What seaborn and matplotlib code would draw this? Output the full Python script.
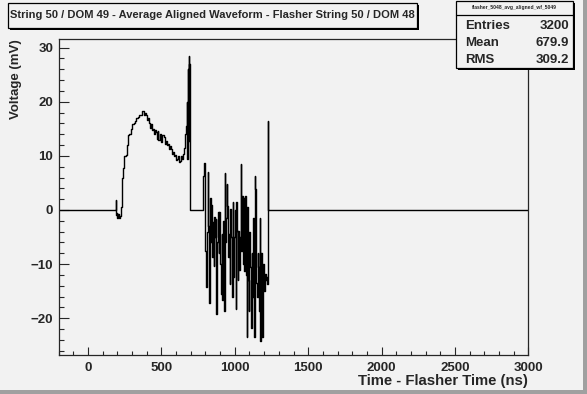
import numpy as np
import pandas as pd
import seaborn as sns
import matplotlib.pyplot as plt
from matplotlib.patches import Rectangle
from matplotlib.ticker import MultipleLocator

# waveform (time in ns, voltage in mV), drawn as histogram steps
rise_t = [-200, 188, 192, 196, 200, 205, 210, 215, 222, 228, 234, 240, 248, 256, 264, 272,
          280, 290, 300, 310, 320, 330, 340, 350, 360, 370, 378, 385, 392, 400, 408, 413,
          420, 426, 433, 440, 446, 453, 460, 467, 474, 480, 487, 494, 500, 507, 515, 522,
          528, 535, 542, 549, 556, 562, 569, 576, 583, 590, 596, 603, 610, 617, 624, 630,
          637, 644, 651, 658, 664, 668, 671, 674, 676, 678, 680, 682, 684, 685, 687, 689,
          691, 693, 698]
rise_mv = [0.0, 1.9, -1.0, -0.5, -1.5, -0.8, -1.4, -1.2, 0.5, 3.2, 6.0, 7.8, 10.0, 10.2, 12.0, 13.8,
           14.0, 15.0, 15.8, 16.0, 16.5, 17.0, 17.2, 17.6, 17.5, 18.2, 17.6, 18.0, 17.5, 16.6, 17.0, 16.1,
           15.2, 15.9, 14.8, 15.0, 14.1, 14.8, 14.4, 13.2, 14.5, 13.0, 14.0, 13.6, 12.5, 13.8, 13.4, 12.2,
           12.8, 12.0, 12.1, 11.3, 11.8, 11.2, 10.4, 10.8, 9.9, 10.2, 9.3, 9.4, 9.9, 8.8, 9.0, 10.0,
           9.5, 10.3, 11.5, 12.7, 14.0, 15.5, 17.0, 20.0, 9.5, 24.2, 18.0, 26.0, 16.0, 28.5, 20.0, 12.7,
           27.0, 11.0, 0.0]

noise_t = [783, 785, 790, 795, 800, 805, 810, 815, 820, 825, 830, 835, 840, 845, 850, 855,
           860, 865, 870, 875, 880, 885, 890, 895, 900, 905, 910, 915, 920, 925, 930, 935,
           940, 945, 950, 955, 960, 965, 970, 975, 980, 985, 990, 995, 1000, 1005, 1010, 1015,
           1020, 1025, 1030, 1035, 1040, 1045, 1050, 1055, 1060, 1065, 1070, 1075, 1080, 1085,
           1090, 1095, 1100, 1105, 1110, 1115, 1120, 1125, 1130, 1135, 1140, 1145, 1150, 1155,
           1160, 1165, 1170, 1175, 1180, 1185, 1190, 1195, 1200, 1205, 1210, 1215, 1220]
noise_mv = [0.0, 6.3, 8.7, 3.0, -7.5, -14.3, -4.0, 7.1, -3.0, -17.1, 2.3, -6.0, 1.0, -8.7, -2.3, -10.3,
            -1.3, -5.0, -1.6, -19.2, -5.9, -0.4, -8.0, -0.4, -9.9, -15.5, -4.4, -16.7, -2.0, -18.6, 6.9, -6.0,
            -1.4, 4.8, 0.8, -8.7, -4.5, -13.6, 0.2, -5.0, -16.1, 1.4, -12.4, -5.0, 0.0, -18.3, 1.4, -3.8,
            -13.0, -3.8, -11.0, -5.0, 8.5, -7.5, 2.6, -10.0, 2.3, -11.2, 2.6, -12.0, -23.5, 0.5,
            -13.0, -18.6, -4.0, -10.6, -21.7, -8.0, -16.1, -1.4, -23.5, 6.3, 3.9, -13.5, -16.1, -8.0,
            -10.6, -18.6, -1.4, -24.1, -8.0, -23.5, -13.5, -10.0, -15.0, -11.8, -13.0, -12.3, -13.6]

tail_t = [1225, 1228, 3000]
tail_mv = [16.5, 0.0, 0.0]

hist_name = "flasher_5048_avg_aligned_wf_5049"
stat_labels = ["Entries", "Mean", "RMS"]
stat_values = ["3200", "679.9", "309.2"]
title = "String 50 / DOM 49 - Average Aligned Waveform - Flasher String 50 / DOM 48"

df = pd.DataFrame({"t": rise_t + noise_t + tail_t, "mv": rise_mv + noise_mv + tail_mv})

bg = "#f2f2f2"
sns.set_style("ticks")
plt.rcParams["font.family"] = ["Liberation Sans", "DejaVu Sans"]
plt.rcParams["font.weight"] = "bold"

fig = plt.figure(figsize=(5.87, 3.94), dpi=100, facecolor=bg)
ax = fig.add_axes([0.1, 0.1, 0.8, 0.8], facecolor=bg)

sns.lineplot(data=df, x="t", y="mv", drawstyle="steps-post", color="black",
             linewidth=1.0, estimator=None, ax=ax)

ax.set_xlim(-200, 3000)
ax.set_ylim(-26.7, 31.5)
ax.xaxis.set_major_locator(MultipleLocator(500))
ax.xaxis.set_minor_locator(MultipleLocator(100))
ax.yaxis.set_major_locator(MultipleLocator(10))
ax.yaxis.set_minor_locator(MultipleLocator(2))
ax.tick_params(axis="x", which="major", direction="in", length=5.5, width=0.8, labelsize=9.5, pad=5)
ax.tick_params(axis="x", which="minor", direction="in", length=3, width=0.8)
ax.tick_params(axis="y", which="major", direction="in", length=7, width=0.8, labelsize=9.5, pad=4)
ax.tick_params(axis="y", which="minor", direction="in", length=3.5, width=0.8)
for lab in ax.get_xticklabels() + ax.get_yticklabels():
    lab.set_fontweight("bold")
for sp in ax.spines.values():
    sp.set_linewidth(0.9)
    sp.set_visible(True)

ax.set_xlabel("Time - Flasher Time (ns)", loc="right", fontsize=10.7, fontweight="bold", labelpad=0)
ax.set_ylabel("Voltage (mV)", loc="top", fontsize=9.5, fontweight="bold", labelpad=6)

W, H = 587.0, 394.0

def box(x0, y0, x1, y1):
    # pixel box (top-left origin) with a ROOT-like shadow
    fig.patches.append(Rectangle((x0 / W + 2 / W, 1 - y1 / H - 2 / H), (x1 - x0) / W, (y1 - y0) / H,
                                 transform=fig.transFigure, facecolor="black", edgecolor="none"))
    fig.patches.append(Rectangle((x0 / W, 1 - y1 / H), (x1 - x0) / W, (y1 - y0) / H,
                                 transform=fig.transFigure, facecolor=bg, edgecolor="black", linewidth=0.9))

# title box
box(8, 3, 417, 28)
fig.text(212 / W, 1 - 15.5 / H, title, ha="center", va="center", fontsize=8.0, fontweight="bold")

# stats box
box(456, 1, 573, 68)
fig.add_artist(plt.Line2D([456 / W, 573 / W], [1 - 15 / H, 1 - 15 / H], transform=fig.transFigure,
                          color="black", linewidth=0.9))
fig.text(514.5 / W, 1 - 8 / H, hist_name, ha="center", va="center", fontsize=3.6)
for i, (lab, val) in enumerate(zip(stat_labels, stat_values)):
    yy = 1 - (26 + 17 * i) / H
    fig.text(465 / W, yy, lab, ha="left", va="center", fontsize=9.5, fontweight="bold")
    fig.text(569 / W, yy, val, ha="right", va="center", fontsize=9.5, fontweight="bold")

# canvas bevel
fig.patches.append(Rectangle((1 - 4 / W, 0), 4 / W, 1, transform=fig.transFigure,
                             facecolor="#a0a0a0", edgecolor="none"))
fig.patches.append(Rectangle((0, 0), 1, 4 / H, transform=fig.transFigure,
                             facecolor="#a0a0a0", edgecolor="none"))

fig.savefig("out.png", dpi=100, facecolor=bg)
